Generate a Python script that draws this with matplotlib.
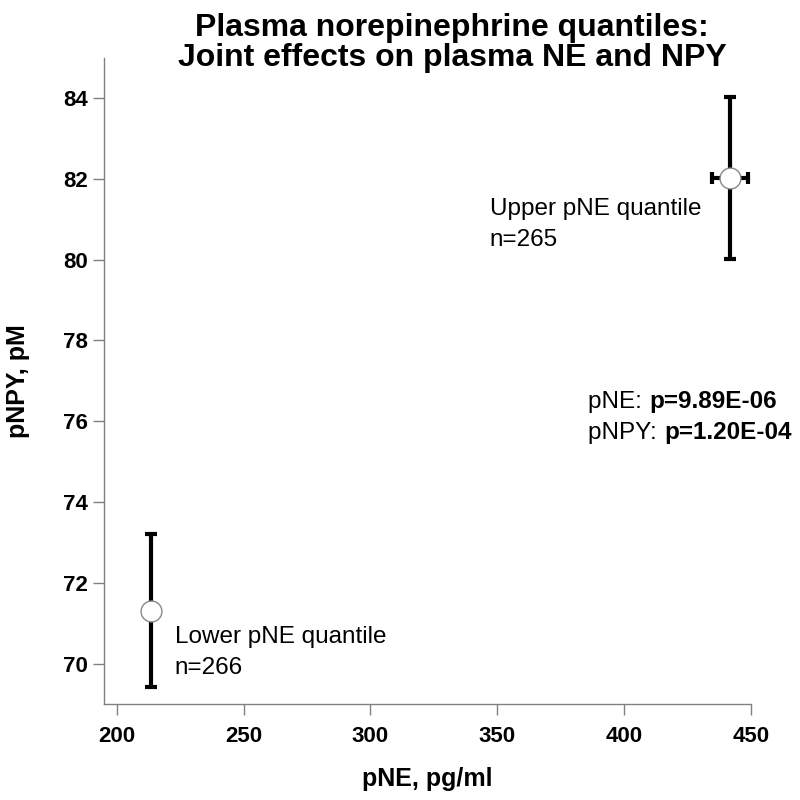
import matplotlib
matplotlib.use("Agg")
import matplotlib.pyplot as plt

plt.rcParams['font.family'] = ['Liberation Sans', 'DejaVu Sans']

# data
pne = [213.7, 441.7]
pne_err = [0.0, 7.1]
npy = [71.31, 82.02]
npy_lo = [69.42, 80.01]
npy_hi = [73.20, 84.02]
groups = [["Lower pNE quantile", "n=266"], ["Upper pNE quantile", "n=265"]]
label_pos = [(222.9, 70.66), (347.0, 81.25)]
pvals = [("pNE: ", "p=9.89E-06"), ("pNPY: ", "p=1.20E-04")]
xticks = [200, 250, 300, 350, 400, 450]
yticks = [70, 72, 74, 76, 78, 80, 82, 84]

fig = plt.figure(figsize=(8, 8), dpi=100)
ax = fig.add_axes([0.130, 0.12, 0.809, 0.808])

yerr = [[c - lo for c, lo in zip(npy, npy_lo)], [hi - c for c, hi in zip(npy, npy_hi)]]
ax.errorbar(pne, npy, yerr=yerr, xerr=pne_err, fmt='none', ecolor='black',
            elinewidth=3, capsize=4, capthick=3, zorder=2)
ax.plot(pne, npy, 'o', ms=15, mfc='white', mec='#888888', mew=1, zorder=3)

for (x, y), lines in zip(label_pos, groups):
    ax.text(x, y, lines[0], fontsize=17.5, va='center', ha='left')
    ax.text(x, y - 0.77, lines[1], fontsize=17.5, va='center', ha='left')

fig.canvas.draw()
renderer = fig.canvas.get_renderer()
py = 76.48
for norm, bold in pvals:
    t = ax.text(385.6, py, norm, fontsize=17.5, va='center', ha='left')
    bb = t.get_window_extent(renderer)
    x_end = ax.transData.inverted().transform((bb.x1, 0))[0]
    ax.text(x_end, py, bold, fontsize=17.5, fontweight='bold', va='center', ha='left')
    py -= 0.77

ax.set_xlim(195, 450)
ax.set_ylim(69, 85)
ax.set_xticks(xticks)
ax.set_yticks(yticks)
for lab in ax.get_xticklabels() + ax.get_yticklabels():
    lab.set_fontweight('bold')
ax.tick_params(direction='out', length=8, width=1, color='#808080', labelsize=16)
ax.tick_params(axis='x', pad=7.5)
ax.tick_params(axis='y', pad=3.5)
for s in ['top', 'right']:
    ax.spines[s].set_visible(False)
for s in ['left', 'bottom']:
    ax.spines[s].set_color('#808080')
    ax.spines[s].set_linewidth(1)

ax.set_xlabel("pNE, pg/ml", fontsize=18, fontweight='bold', labelpad=15)
ax.set_ylabel("pNPY, pM", fontsize=18, fontweight='bold', labelpad=24)

fig.text(0.565, 0.965, "Plasma norepinephrine quantiles:", fontsize=23, fontweight='bold',
         ha='center', va='center')
fig.text(0.565, 0.927, "Joint effects on plasma NE and NPY", fontsize=23, fontweight='bold',
         ha='center', va='center')

fig.savefig("out.png", dpi=100)
